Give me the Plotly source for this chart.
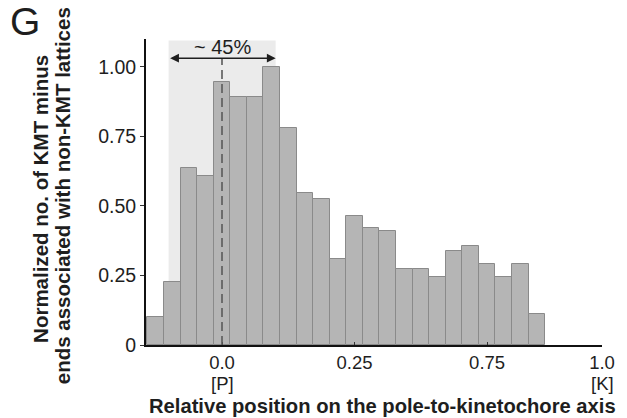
import plotly.graph_objects as go

# ---- data ----
bin_centers = [-0.1744, -0.1308, -0.0872, -0.0436, 0.0, 0.0436, 0.0872, 0.1308,
               0.1744, 0.2180, 0.2616, 0.3052, 0.3488, 0.3924, 0.4360, 0.4796,
               0.5232, 0.5668, 0.6104, 0.6540, 0.6976, 0.7412, 0.7848, 0.8284]
norm_counts = [0.100, 0.226, 0.638, 0.607, 0.946, 0.890, 0.892, 1.000,
               0.781, 0.545, 0.524, 0.310, 0.465, 0.419, 0.410, 0.274,
               0.274, 0.245, 0.338, 0.357, 0.291, 0.245, 0.291, 0.111]
bin_width = 0.0436

x_tick_vals = [0.0, 0.3488, 0.6976, 1.0]
x_tick_text = ["0.0", "0.25", "0.75", "1.0"]
y_tick_vals = [0, 0.25, 0.5, 0.75, 1.0]
y_tick_text = ["0", "0.25", "0.50", "0.75", "1.00"]

shade_range = [-0.1405, 0.1412]
pct_label = "~ 45%"

FONT = "Liberation Sans, Arial, sans-serif"
TXT = "#1e1e1e"

# plot geometry helpers (pixels -> paper)
L, R, T, B = 146, 21, 39, 73
W, H = 627, 418
PW, PH = W - L - R, H - T - B
def px(x):
    return (x - L) / PW
def py(y):
    return (H - B - y) / PH

fig = go.Figure()
fig.add_trace(go.Bar(
    x=bin_centers, y=norm_counts, width=bin_width,
    marker=dict(color="#b5b5b5", line=dict(color="#8a8a8a", width=1)),
    hoverinfo="skip",
))

# shaded region
fig.add_shape(type="rect", xref="x", yref="y",
              x0=shade_range[0], x1=shade_range[1], y0=0, y1=1.095,
              fillcolor="#ebebeb", line=dict(width=0), layer="below")
# dashed line at 0
fig.add_shape(type="line", xref="x", yref="y", x0=0, x1=0, y0=0, y1=1.03,
              line=dict(color="#5a5a5a", width=1.6, dash="9px,5px"), layer="above")

annotations = [
    # double arrow
    dict(x=shade_range[1], y=1.031, ax=shade_range[0], ay=1.031,
         xref="x", yref="y", axref="x", ayref="y", text="",
         showarrow=True, arrowhead=2, arrowside="end+start",
         arrowsize=1.1, arrowwidth=1.6, arrowcolor="#1e1e1e", startarrowhead=2,
         startarrowsize=1.1),
    dict(x=0.0, y=1.071, xref="x", yref="y", text=pct_label, showarrow=False,
         font=dict(family=FONT, size=20, color=TXT), xanchor="center", yanchor="middle"),
    # [P] and [K]
    dict(x=0.0, y=py(383), xref="x", yref="paper", text="[P]", showarrow=False,
         font=dict(family=FONT, size=18.5, color=TXT), xanchor="center", yanchor="middle"),
    dict(x=1.0, y=py(383), xref="x", yref="paper", text="[K]", showarrow=False,
         font=dict(family=FONT, size=18.5, color=TXT), xanchor="center", yanchor="middle"),
    # x title
    dict(x=px(385), y=py(406), xref="paper", yref="paper",
         text="<b>Relative position on the pole-to-kinetochore axis</b>", showarrow=False,
         font=dict(family=FONT, size=20.2, color=TXT), xanchor="center", yanchor="middle"),
    # y title (two lines)
    dict(x=px(40), y=py(199), xref="paper", yref="paper",
         text="<b>Normalized no. of KMT minus</b>", showarrow=False, textangle=-90,
         font=dict(family=FONT, size=20.5, color=TXT), xanchor="center", yanchor="middle"),
    dict(x=px(62), y=py(195.5), xref="paper", yref="paper",
         text="<b>ends associated with non-KMT lattices</b>", showarrow=False, textangle=-90,
         font=dict(family=FONT, size=20.5, color=TXT), xanchor="center", yanchor="middle"),
    # panel letter
    dict(x=px(7), y=py(22), xref="paper", yref="paper", text="G", showarrow=False,
         font=dict(family=FONT, size=39, color=TXT), xanchor="left", yanchor="middle"),
]

fig.update_layout(
    width=W, height=H,
    margin=dict(l=L, r=R, t=T, b=B),
    paper_bgcolor="white", plot_bgcolor="white",
    showlegend=False, bargap=0,
    annotations=annotations,
    font=dict(family=FONT, color=TXT),
)
fig.update_xaxes(range=[-0.2, 1.0], showgrid=False, zeroline=False,
                 showline=True, linecolor="#111", linewidth=2,
                 ticks="inside", ticklen=3, tickwidth=1.2, tickcolor="#333",
                 tickvals=x_tick_vals, ticktext=x_tick_text,
                 tickfont=dict(family=FONT, size=18.5, color=TXT))
fig.update_yaxes(range=[0, 1.1], showgrid=False, zeroline=False,
                 showline=True, linecolor="#111", linewidth=2,
                 ticks="outside", ticklen=4, tickwidth=1.2, tickcolor="#333",
                 tickvals=y_tick_vals, ticktext=y_tick_text,
                 tickfont=dict(family=FONT, size=19.5, color=TXT))

fig.write_html("out.html")
